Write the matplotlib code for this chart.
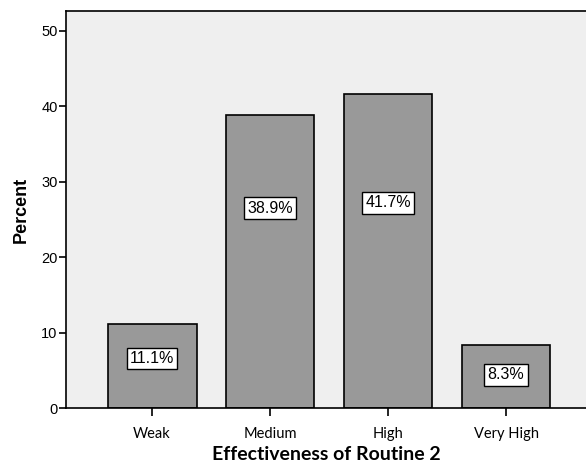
import matplotlib.pyplot as plt
import numpy as np

plt.rcParams['font.family'] = ['Liberation Sans', 'DejaVu Sans']

categories = ['Weak', 'Medium', 'High', 'Very High']
percent = [11.1, 38.9, 41.7, 8.3]
labels = ['11.1%', '38.9%', '41.7%', '8.3%']
label_y = [6.6, 26.5, 27.2, 4.4]

fig = plt.figure(figsize=(5.86, 4.67), dpi=100)
ax = fig.add_axes([66/586, 59/467, 520/586, 397/467])
ax.set_facecolor('#efefef')

x = np.arange(len(categories))
ax.bar(x, percent, width=0.754, color='#999999', edgecolor='black', linewidth=1.2, zorder=2)

for xi, ly, t in zip(x, label_y, labels):
    ax.text(xi, ly, t, ha='center', va='center', fontsize=11.5,
            bbox=dict(boxstyle='square,pad=0.2', fc='white', ec='black', lw=1), zorder=3)

ax.set_xlim(-0.729, 3.678)
ax.set_ylim(0, 52.65)
ax.set_yticks([0, 10, 20, 30, 40, 50])
ax.set_yticklabels(['0', '10', '20', '30', '40', '50'], fontsize=10.5)
ax.set_xticks(x)
ax.set_xticklabels(categories, family='Lato', fontsize=10.5)
ax.tick_params(axis='y', length=5, width=1.2, pad=1)
ax.tick_params(axis='x', length=6, width=1.2, pad=8)

ax.spines['right'].set_visible(False)
for s in ['left', 'bottom', 'top']:
    ax.spines[s].set_linewidth(1.2)

ax.set_ylabel('Percent', fontweight='bold', fontsize=13, labelpad=8)
ax.set_xlabel('Effectiveness of Routine 2', family='Lato', fontweight='bold', fontsize=14, labelpad=3)

fig.savefig('out.png', dpi=100)
